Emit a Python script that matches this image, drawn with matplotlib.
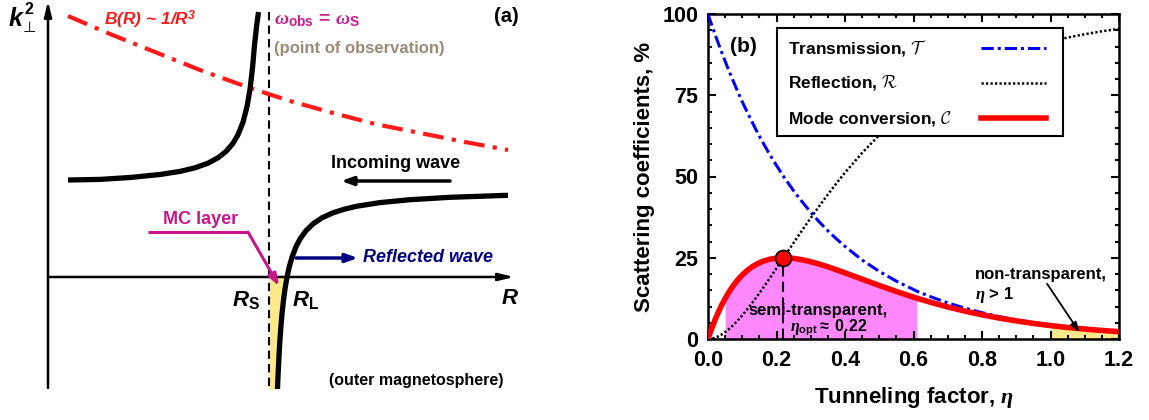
import matplotlib
matplotlib.use('Agg')
import matplotlib.pyplot as plt
from matplotlib.lines import Line2D
from matplotlib.patches import Rectangle
from matplotlib.ticker import MultipleLocator
import numpy as np

plt.rcParams.update({
    'font.family': ['Liberation Sans', 'DejaVu Sans'],
    'font.weight': 'bold',
    'axes.labelweight': 'bold',
    'mathtext.fontset': 'custom',
    'mathtext.rm': 'Liberation Sans:bold',
    'mathtext.bf': 'Liberation Sans:bold',
    'mathtext.it': 'Liberation Serif:italic',
    'mathtext.sf': 'Liberation Sans:bold:italic',
    'mathtext.cal': 'cmsy10',
    'mathtext.fallback': 'stix',
})

# ---------------- data: panel (b) ----------------
eta = [0, 0.005, 0.01, 0.02, 0.03, 0.04, 0.05, 0.06, 0.07, 0.08,
       0.09, 0.10, 0.115, 0.13, 0.145, 0.16, 0.18, 0.20, 0.22, 0.25,
       0.275, 0.30, 0.325, 0.35, 0.375, 0.40, 0.45, 0.50, 0.55, 0.61,
       0.65, 0.70, 0.75, 0.80, 0.85, 0.90, 0.95, 1.00, 1.05, 1.10,
       1.15, 1.20]
transmission = [100, 98.4, 96.9, 93.9, 91.0, 88.2, 85.5, 82.8, 80.3, 77.8,
                75.4, 73.0, 69.7, 66.5, 63.4, 60.5, 56.8, 53.4, 50.1, 45.6,
                42.2, 39.0, 36.0, 33.3, 30.8, 28.5, 24.3, 20.8, 17.8, 14.7,
                13.0, 11.1, 9.5, 8.1, 6.9, 5.9, 5.05, 4.3, 3.69, 3.2,
                2.70, 2.3]
reflection = [0, 0.02, 0.10, 0.37, 0.81, 1.39, 2.11, 2.95, 3.90, 4.94,
              6.07, 7.27, 9.19, 11.24, 13.39, 15.61, 18.65, 21.76, 24.90, 29.60,
              33.47, 37.25, 40.93, 44.49, 47.90, 51.18, 57.27, 62.74, 67.63, 72.74,
              75.72, 79.05, 81.94, 84.46, 86.64, 88.51, 90.16, 91.55, 92.76, 93.78,
              94.67, 95.43]
conversion = [0, 1.54, 2.99, 5.72, 8.18, 10.42, 12.43, 14.23, 15.84, 17.28,
              18.56, 19.69, 21.13, 22.29, 23.20, 23.90, 24.54, 24.89, 25.00, 24.81,
              24.38, 23.78, 23.05, 22.21, 21.31, 20.36, 18.41, 16.47, 14.61, 12.55,
              11.30, 9.86, 8.58, 7.44, 6.44, 5.57, 4.80, 4.13, 3.55, 3.06,
              2.63, 2.26]
eta_opt, c_opt = 0.22, 25.0
semi_range = (0.05, 0.61)
nontrans_range = (1.0, 1.2)
xtick_vals = [0.0, 0.2, 0.4, 0.6, 0.8, 1.0, 1.2]
xtick_labels = ['0.0', '0.2', '0.4', '0.6', '0.8', '1.0', '1.2']
ytick_vals = [0, 25, 50, 75, 100]
legend_labels = [r'Transmission, $\mathcal{T}$', r'Reflection, $\mathcal{R}$',
                 r'Mode conversion, $\mathcal{C}$']

# ---------------- data: panel (a) schematic (pixel-like coordinates) ----------------
left_branch_x = [68, 100, 130, 160, 180, 195, 208, 218, 226, 233, 238, 243, 247, 250,
                 252.5, 254.5, 256.5, 258.5]
left_branch_y = [180, 179.4, 177.5, 174.5, 171.4, 167.8, 163.2, 157.8, 151.5, 143.3,
                 134.8, 122.2, 106.7, 89.4, 68, 45, 27, 12]
right_branch_x = [277.5, 278, 279, 280, 281, 282, 283.5, 285, 287, 289, 292, 296, 300,
                  306, 313, 322, 333, 345, 357, 380, 410, 450, 508]
right_branch_y = [389, 376.5, 355.7, 339, 325.4, 314, 300.1, 289, 277.2, 268, 257.2,
                  246.7, 239, 230.7, 223.9, 217.8, 212.8, 209, 206.2, 202.6, 199.7, 197.3, 195.3]
bfield_x = [68, 110, 150, 200, 250, 290, 333, 375, 420, 465, 508]
bfield_y = [16, 34, 50, 70, 88, 101, 113, 124, 133, 142, 150]
rs_x = 269
axis_y0 = 277
axis_x0 = 48

fig = plt.figure(figsize=(11.49, 4.2), dpi=100)

# ================= panel (a) =================
axa = fig.add_axes([0, 0, 520 / 1149, 1])
axa.set_xlim(0, 520)
axa.set_ylim(420, 0)
axa.axis('off')

rbx = np.array(right_branch_x)
rby = np.array(right_branch_y)
below = rby >= axis_y0
axa.fill_betweenx(np.append(rby[below], axis_y0), rs_x,
                  np.append(rbx[below], np.interp(axis_y0, rby[::-1], rbx[::-1])),
                  color='#fde98c', lw=0, zorder=1)

arrow_kw = dict(arrowstyle='-|>,head_length=0.9,head_width=0.22', lw=1.8,
                color='black', shrinkA=0, shrinkB=0)
axa.annotate('', xy=(axis_x0, 1), xytext=(axis_x0, 388), arrowprops=arrow_kw, zorder=3)
axa.annotate('', xy=(514, axis_y0), xytext=(axis_x0, axis_y0), arrowprops=arrow_kw, zorder=3)

axa.plot([rs_x, rs_x], [12, 388], color='black', lw=1.5, dashes=(4, 2.5), zorder=2)

axa.plot(left_branch_x, left_branch_y, color='black', lw=3.8, solid_capstyle='butt',
         solid_joinstyle='round', zorder=4)
axa.plot(right_branch_x, right_branch_y, color='black', lw=3.8, solid_capstyle='butt',
         solid_joinstyle='round', zorder=4)

axa.plot(bfield_x, bfield_y, color='#ff1a1a', lw=3.0, linestyle=(0, (5, 2, 1, 2)), zorder=3)

# k_perp^2 label
axa.text(16, 19, 'k', fontsize=18, fontstyle='italic', ha='center', va='center')
axa.text(29, 10, '2', fontsize=11.5, ha='center', va='center')
axa.text(29.5, 27, '\u22a5', fontsize=11, family='DejaVu Sans', fontweight='normal',
         ha='center', va='center')

axa.text(104, 20, r'B(R) ~ 1/$\mathsf{R}^{\mathsf{3}}$', fontsize=12.5, color='#ff1a1a',
         fontstyle='italic', ha='left', va='center')
axa.text(274, 20, r'$\omega_{\mathrm{obs}}$ = $\omega_{\mathrm{S}}$', fontsize=14,
         color='#cc1a8f', ha='left', va='center')
axa.text(274, 48, '(point of observation)', fontsize=12, color='#9b8b76', ha='left', va='center')
axa.text(519, 17, '(a)', fontsize=14.5, ha='right', va='center')
axa.text(396, 163, 'Incoming wave', fontsize=13, ha='center', va='center')
axa.annotate('', xy=(341, 181), xytext=(450, 181),
             arrowprops=dict(arrowstyle='-|>,head_length=0.7,head_width=0.25', lw=2.5,
                             color='black', shrinkA=0, shrinkB=0))
axa.text(201, 219, 'MC layer', fontsize=13, color='#c8168a', ha='center', va='center')
axa.plot([148, 248], [232, 232], color='#c8168a', lw=2.2, solid_capstyle='butt')
axa.annotate('', xy=(279, 286), xytext=(248, 232),
             arrowprops=dict(arrowstyle='-|>,head_length=0.7,head_width=0.25', lw=2.2,
                             color='#c8168a', shrinkA=0, shrinkB=0), zorder=5)
axa.annotate('', xy=(358, 258), xytext=(296, 258),
             arrowprops=dict(arrowstyle='-|>,head_length=0.7,head_width=0.25', lw=2.5,
                             color='#000080', shrinkA=0, shrinkB=0), zorder=5)
axa.text(363, 258, 'Reflected wave', fontsize=13, color='#000080', fontstyle='italic',
         ha='left', va='center')
axa.text(246, 300, r'$\mathsf{R}_{\mathrm{S}}$', fontsize=16, ha='center', va='center')
axa.text(306, 300, r'$\mathsf{R}_{\mathrm{L}}$', fontsize=16, ha='center', va='center')
axa.text(510, 298, r'$\mathsf{R}$', fontsize=16, ha='center', va='center')
axa.text(416, 380, '(outer magnetosphere)', fontsize=11.5, ha='center', va='center')

# ================= panel (b) =================
ax = fig.add_axes([708 / 1149, (420 - 339) / 420, 411 / 1149, 325 / 420])
ax.set_xlim(0, 1.2)
ax.set_ylim(0, 100)

e = np.array(eta)
c = np.array(conversion)
m1 = (e >= semi_range[0]) & (e <= semi_range[1])
ax.fill_between(e[m1], 0, c[m1], color='#ff88ff', lw=0, zorder=1)
m2 = (e >= nontrans_range[0]) & (e <= nontrans_range[1])
ax.fill_between(e[m2], 0, c[m2], color='#fde98c', lw=0, zorder=1)

t_style = dict(color='#0000ff', lw=2.2, linestyle=(0, (4, 1.3, 1, 1.3)))
r_style = dict(color='black', lw=1.8, linestyle=(0, (0.9, 0.9)))
c_style = dict(color='#ff0000', lw=4.0)
ax.plot(eta, transmission, zorder=3, **t_style)
ax.plot(eta, reflection, zorder=3, **r_style)
ax.plot(eta, conversion, zorder=4, **c_style)
ax.plot([eta_opt, eta_opt], [0, c_opt], color='black', lw=1.5, dashes=(5, 2.5), zorder=4)
ax.plot([eta_opt], [c_opt], 'o', ms=11.5, mfc='#ff0000', mec='black', mew=1.2, zorder=6)

ax.text(0.064, 90, '(b)', fontsize=15, ha='left', va='center')
ax.text(0.32, 8.8, 'semi-transparent,', fontsize=12, ha='center', va='center', zorder=5)
ax.text(0.24, 3.5, r'$\eta_{\mathrm{opt}}\approx$ 0.22', fontsize=11.5, ha='left',
        va='center', zorder=5)
ax.text(0.78, 19.7, 'non-transparent,', fontsize=12, ha='left', va='center')
ax.text(0.78, 13.6, r'$\eta$ > 1', fontsize=12, ha='left', va='center')
ax.annotate('', xy=(1.085, 2.0), xytext=(0.99, 17.0),
            arrowprops=dict(arrowstyle='-|>,head_length=0.6,head_width=0.2', lw=1.3,
                            color='black', shrinkA=0, shrinkB=0), zorder=7)

ax.set_xticks(xtick_vals)
ax.set_xticklabels(xtick_labels)
ax.set_yticks(ytick_vals)
ax.xaxis.set_minor_locator(MultipleLocator(0.05))
ax.yaxis.set_minor_locator(MultipleLocator(5))
ax.tick_params(which='both', direction='in', top=True, right=True, width=1.5)
ax.tick_params(which='major', length=6, labelsize=15.5)
ax.tick_params(axis='x', which='major', pad=8)
ax.tick_params(axis='y', which='major', pad=7)
ax.tick_params(which='minor', length=3)
for s in ax.spines.values():
    s.set_linewidth(1.8)
ax.set_xlabel(r'Tunneling factor, $\eta$', fontsize=16, labelpad=10)
ax.set_ylabel('Scattering coefficients, %', fontsize=16, labelpad=5)

box = Rectangle((0.168, 0.625), 0.864 - 0.168, 0.957 - 0.625, transform=ax.transAxes,
                facecolor='white', edgecolor='black', lw=1.5, zorder=8)
ax.add_patch(box)
row_y = [0.895, 0.788, 0.680]
for yrow, lab, sty in zip(row_y, legend_labels, [t_style, r_style, c_style]):
    ax.text(0.195, yrow, lab, transform=ax.transAxes, fontsize=12.5, ha='left',
            va='center', zorder=9)
    ax.add_line(Line2D([0.664, 0.822], [yrow, yrow], transform=ax.transAxes, zorder=9, **sty))

fig.savefig('out.png', dpi=100)
